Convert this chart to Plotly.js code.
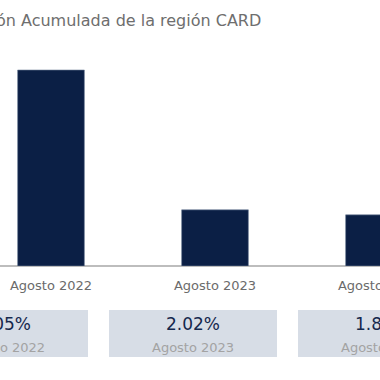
<!DOCTYPE html>
<html>
<head>
<meta charset="utf-8">
<script src="https://cdn.plot.ly/plotly-3.0.1.min.js"></script>
<style>html,body{margin:0;padding:0;background:#fff;}#chart{width:380px;height:380px;}</style>
</head>
<body>
<div id="chart"></div>
<script>
// Data
var categories = ["Agosto 2022", "Agosto 2023", "Agosto 2024"];
var values = [7.05, 2.02, 1.84];
var valueLabels = ["7.05%", "2.02%", "1.84%"];
var titleText = "Inflación Acumulada de la región CARD";

// Layout helpers (pixel geometry)
var W = 380, H = 380, T = 40, B = 114;
var plotH = H - T - B;            // 226
var pxPerUnitX = 164, firstCenterPx = 51;
function px2paperX(px){ return px / W; }
function px2paperY(py){ return (H - B - py) / plotH; }

var boxCenters0 = 4, boxStep = 189, boxW = 168, boxTop = 310, boxBot = 357;

var shapes = [];
var annotations = [];
categories.forEach(function(c, i){
  var cx = boxCenters0 + boxStep * i;
  shapes.push({
    type: "rect", xref: "paper", yref: "paper",
    x0: px2paperX(cx - boxW/2), x1: px2paperX(cx + boxW/2),
    y0: px2paperY(boxBot), y1: px2paperY(boxTop),
    fillcolor: "#d7dde6", line: {width: 0}, layer: "below"
  });
  annotations.push({
    xref: "paper", yref: "paper", x: px2paperX(cx), y: px2paperY(324),
    text: valueLabels[i], showarrow: false, xanchor: "center", yanchor: "middle",
    font: {family: "DejaVu Sans", size: 17, color: "#15284d"}
  });
  annotations.push({
    xref: "paper", yref: "paper", x: px2paperX(cx), y: px2paperY(347),
    text: c, showarrow: false, xanchor: "center", yanchor: "middle",
    font: {family: "DejaVu Sans", size: 13, color: "#a3a3a3"}
  });
});
annotations.push({
  xref: "paper", yref: "paper", x: px2paperX(263), y: px2paperY(20),
  text: titleText, showarrow: false, xanchor: "right", yanchor: "middle",
  font: {family: "DejaVu Sans", size: 16, color: "#6e6e6e"}
});

var trace = {
  type: "bar", x: categories, y: values,
  marker: {color: "#0b1f45", line: {color: "#6f7f99", width: 0.6}},
  width: 0.407, hoverinfo: "none"
};

var layout = {
  width: W, height: H,
  margin: {l: 0, r: 0, t: T, b: B, pad: 0},
  paper_bgcolor: "#ffffff", plot_bgcolor: "#ffffff",
  showlegend: false,
  xaxis: {
    type: "category",
    range: [-firstCenterPx / pxPerUnitX, (W - firstCenterPx) / pxPerUnitX],
    showgrid: false, zeroline: false,
    showline: false, ticks: "",
    tickfont: {family: "DejaVu Sans", size: 13, color: "#6b6b6b"},
    ticklabelstandoff: 10
  },
  yaxis: {
    range: [0, plotH / 27.8],
    showgrid: false, zeroline: true, zerolinecolor: "#bdbdbd", zerolinewidth: 1.2,
    showticklabels: false, showline: false, ticks: ""
  },
  shapes: shapes,
  annotations: annotations
};

Plotly.newPlot("chart", [trace], layout, {staticPlot: true, displayModeBar: false});
</script>
</body>
</html>
